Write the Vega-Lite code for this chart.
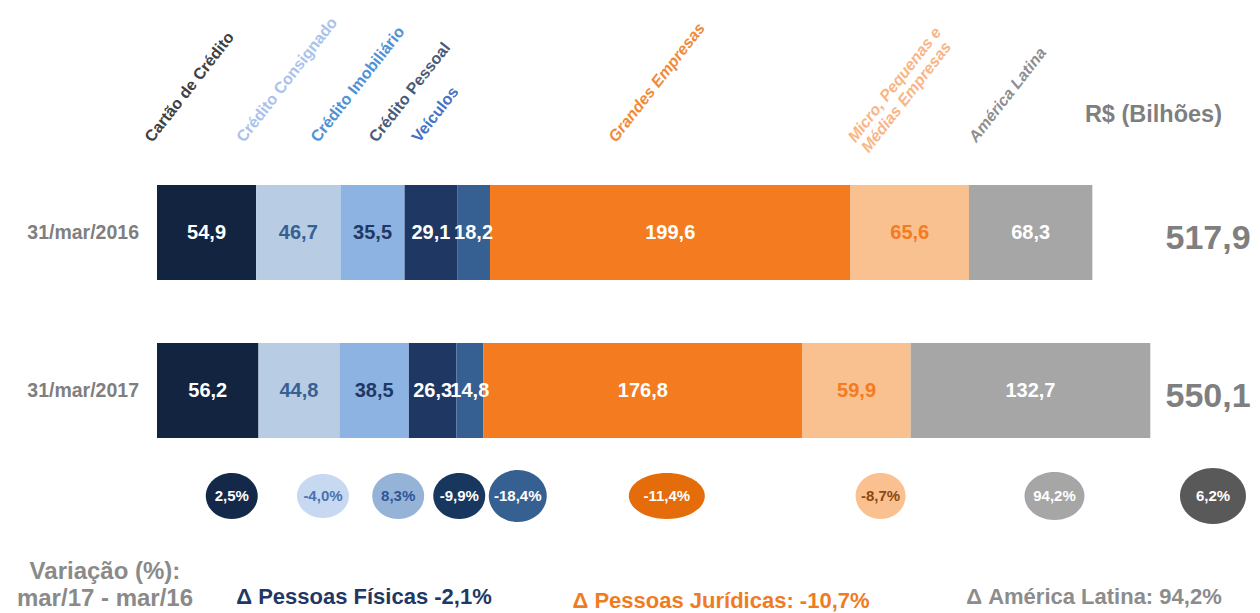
{
  "$schema": "https://vega.github.io/schema/vega-lite/v6.json",
  "width": 1260,
  "height": 613,
  "autosize": {"type": "none"},
  "padding": 0,
  "background": "#ffffff",
  "config": {
    "view": {"stroke": null},
    "locale": {"number": {"decimal": ",", "thousands": ".", "grouping": [3], "currency": ["R$ ", ""], "minus": "-"}}
  },
  "datasets": {
    "seg": [
      {"periodo": "31/mar/2016", "categoria": "Cartão de Crédito", "ordem": 1, "valor": 54.9},
      {"periodo": "31/mar/2016", "categoria": "Crédito Consignado", "ordem": 2, "valor": 46.7},
      {"periodo": "31/mar/2016", "categoria": "Crédito Imobiliário", "ordem": 3, "valor": 35.5},
      {"periodo": "31/mar/2016", "categoria": "Crédito Pessoal", "ordem": 4, "valor": 29.1},
      {"periodo": "31/mar/2016", "categoria": "Veículos", "ordem": 5, "valor": 18.2},
      {"periodo": "31/mar/2016", "categoria": "Grandes Empresas", "ordem": 6, "valor": 199.6},
      {"periodo": "31/mar/2016", "categoria": "Micro, Pequenas e\nMédias Empresas", "ordem": 7, "valor": 65.6},
      {"periodo": "31/mar/2016", "categoria": "América Latina", "ordem": 8, "valor": 68.3},
      {"periodo": "31/mar/2017", "categoria": "Cartão de Crédito", "ordem": 1, "valor": 56.2, "variacao": 0.025},
      {"periodo": "31/mar/2017", "categoria": "Crédito Consignado", "ordem": 2, "valor": 44.8, "variacao": -0.040},
      {"periodo": "31/mar/2017", "categoria": "Crédito Imobiliário", "ordem": 3, "valor": 38.5, "variacao": 0.083},
      {"periodo": "31/mar/2017", "categoria": "Crédito Pessoal", "ordem": 4, "valor": 26.3, "variacao": -0.099},
      {"periodo": "31/mar/2017", "categoria": "Veículos", "ordem": 5, "valor": 14.8, "variacao": -0.184},
      {"periodo": "31/mar/2017", "categoria": "Grandes Empresas", "ordem": 6, "valor": 176.8, "variacao": -0.114},
      {"periodo": "31/mar/2017", "categoria": "Micro, Pequenas e\nMédias Empresas", "ordem": 7, "valor": 59.9, "variacao": -0.087},
      {"periodo": "31/mar/2017", "categoria": "América Latina", "ordem": 8, "valor": 132.7, "variacao": 0.942}
    ],
    "totais": [
      {"periodo": "31/mar/2016", "total": 517.9},
      {"periodo": "31/mar/2017", "total": 550.1, "variacao": 0.062}
    ],
    "notas": [
      {"id": "unidade", "texto": "R$ (Bilhões)"},
      {"id": "variacao", "texto": "Variação (%):\nmar/17 - mar/16"},
      {"id": "pf", "texto": "Δ Pessoas Físicas -2,1%"},
      {"id": "pj", "texto": "Δ Pessoas Jurídicas: -10,7%"},
      {"id": "al", "texto": "Δ América Latina: 94,2%"}
    ]
  },
  "layer": [
    {
      "data": {"name": "seg"},
      "transform": [
        {"stack": "valor", "groupby": ["periodo"], "sort": [{"field": "ordem", "order": "ascending"}], "as": ["ini", "fim"]}
      ],
      "mark": {"type": "bar", "height": {"band": 0.6013}},
      "encoding": {
        "x": {"field": "ini", "type": "quantitative", "scale": {"domain": [-86.93, 610.74], "nice": false, "zero": false}, "axis": null},
        "x2": {"field": "fim"},
        "y": {"field": "periodo", "type": "nominal", "scale": {"type": "band", "domain": ["31/mar/2016", "31/mar/2017"], "paddingInner": 0, "paddingOuter": 0.93987, "align": 0.51684}, "axis": null},
        "color": {
          "field": "categoria", "type": "nominal", "legend": null,
          "scale": {
            "domain": ["Cartão de Crédito", "Crédito Consignado", "Crédito Imobiliário", "Crédito Pessoal", "Veículos", "Grandes Empresas", "Micro, Pequenas e\nMédias Empresas", "América Latina"],
            "range": ["#12243f", "#b8cce4", "#8db3e2", "#1f3763", "#366092", "#f47b20", "#f9c090", "#a6a6a6"]
          }
        }
      }
    },
    {
      "data": {"name": "seg"},
      "transform": [
        {"stack": "valor", "groupby": ["periodo"], "sort": [{"field": "ordem", "order": "ascending"}], "as": ["ini", "fim"]},
        {"calculate": "(datum.ini + datum.fim) / 2", "as": "meio"}
      ],
      "mark": {"type": "text", "font": "Liberation Sans", "fontSize": 20, "fontWeight": "bold", "align": "center", "baseline": "middle"},
      "encoding": {
        "x": {"field": "meio", "type": "quantitative", "scale": {"domain": [-86.93, 610.74], "nice": false, "zero": false}, "axis": null},
        "y": {"field": "periodo", "type": "nominal", "scale": {"type": "band", "domain": ["31/mar/2016", "31/mar/2017"], "paddingInner": 0, "paddingOuter": 0.93987, "align": 0.51684}, "axis": null},
        "text": {"field": "valor", "type": "quantitative", "format": ".1f"},
        "color": {
          "condition": [
            {"test": "datum.ordem == 2", "value": "#366092"},
            {"test": "datum.ordem == 3", "value": "#1f3864"},
            {"test": "datum.ordem == 7", "value": "#f47b20"}
          ],
          "value": "#ffffff"
        }
      }
    },
    {
      "data": {"name": "totais"},
      "mark": {"type": "text", "font": "Liberation Sans", "fontSize": 19.5, "fontWeight": "bold", "align": "right", "baseline": "middle", "color": "#7f7f7f"},
      "encoding": {
        "x": {"datum": -9.96, "type": "quantitative", "scale": {"domain": [-86.93, 610.74], "nice": false, "zero": false}, "axis": null},
        "y": {"field": "periodo", "type": "nominal", "scale": {"type": "band", "domain": ["31/mar/2016", "31/mar/2017"], "paddingInner": 0, "paddingOuter": 0.93987, "align": 0.51684}, "axis": null},
        "text": {"field": "periodo", "type": "nominal"}
      }
    },
    {
      "data": {"name": "seg"},
      "transform": [
        {"filter": "datum.periodo == '31/mar/2016'"},
        {"stack": "valor", "groupby": ["periodo"], "sort": [{"field": "ordem", "order": "ascending"}], "as": ["ini", "fim"]},
        {"calculate": "(datum.ini + datum.fim) / 2", "as": "meio"},
        {"filter": "datum.ordem <= 5"}
      ],
      "mark": {"type": "text", "angle": 308, "align": "left", "baseline": "bottom", "font": "Liberation Sans", "fontSize": 16, "fontWeight": "bold", "lineBreak": "\n", "lineHeight": 17, "xOffset": -52, "yOffset": -8.5},
      "encoding": {
        "x": {"field": "meio", "type": "quantitative", "scale": {"domain": [-86.93, 610.74], "nice": false, "zero": false}, "axis": null},
        "y": {"field": "periodo", "type": "nominal", "bandPosition": 0, "scale": {"type": "band", "domain": ["31/mar/2016", "31/mar/2017"], "paddingInner": 0, "paddingOuter": 0.93987, "align": 0.51684}, "axis": null},
        "text": {"field": "categoria", "type": "nominal"},
        "color": {
          "condition": [
            {"test": "datum.ordem == 2", "value": "#a9c3ec"},
            {"test": "datum.ordem == 3", "value": "#4f91d6"},
            {"test": "datum.ordem == 4", "value": "#4a5b78"},
            {"test": "datum.ordem == 5", "value": "#4472c4"}
          ],
          "value": "#404040"
        }
      }
    },
    {
      "data": {"name": "seg"},
      "transform": [
        {"filter": "datum.periodo == '31/mar/2016'"},
        {"stack": "valor", "groupby": ["periodo"], "sort": [{"field": "ordem", "order": "ascending"}], "as": ["ini", "fim"]},
        {"calculate": "(datum.ini + datum.fim) / 2", "as": "meio"},
        {"filter": "datum.ordem > 5"}
      ],
      "mark": {"type": "text", "angle": 308, "align": "left", "baseline": "bottom", "font": "Liberation Sans", "fontSize": 16, "fontWeight": "bold", "fontStyle": "italic", "lineBreak": "\n", "lineHeight": 17, "xOffset": -52, "yOffset": -8.5},
      "encoding": {
        "x": {"field": "meio", "type": "quantitative", "scale": {"domain": [-86.93, 610.74], "nice": false, "zero": false}, "axis": null},
        "y": {"field": "periodo", "type": "nominal", "bandPosition": 0, "scale": {"type": "band", "domain": ["31/mar/2016", "31/mar/2017"], "paddingInner": 0, "paddingOuter": 0.93987, "align": 0.51684}, "axis": null},
        "text": {"field": "categoria", "type": "nominal"},
        "color": {
          "condition": [
            {"test": "datum.ordem == 6", "value": "#f08a3a"},
            {"test": "datum.ordem == 7", "value": "#f9b585"}
          ],
          "value": "#8f8f8f"
        }
      }
    },
    {
      "data": {"name": "seg"},
      "transform": [
        {"filter": "datum.periodo == '31/mar/2017'"},
        {"stack": "valor", "groupby": ["periodo"], "sort": [{"field": "ordem", "order": "ascending"}], "as": ["ini", "fim"]},
        {"calculate": "(datum.ini + datum.fim) / 2", "as": "meio"},
        {"window": [{"op": "lag", "field": "meio", "as": "meio_ant"}], "sort": [{"field": "ordem", "order": "ascending"}]},
        {"calculate": "max(datum.meio + 13.3, isValid(datum.meio_ant) ? datum.meio_ant + 47.1 : -1000)", "as": "pos"}
      ],
      "mark": {"type": "point", "filled": true, "opacity": 1, "size": 4, "strokeWidth": 0, "yOffset": 26.5},
      "encoding": {
        "x": {"field": "pos", "type": "quantitative", "scale": {"domain": [-86.93, 610.74], "nice": false, "zero": false}, "axis": null},
        "y": {"field": "periodo", "type": "nominal", "bandPosition": 1, "scale": {"type": "band", "domain": ["31/mar/2016", "31/mar/2017"], "paddingInner": 0, "paddingOuter": 0.93987, "align": 0.51684}, "axis": null},
        "fill": {
          "field": "categoria", "type": "nominal", "legend": null,
          "scale": {
            "domain": ["Cartão de Crédito", "Crédito Consignado", "Crédito Imobiliário", "Crédito Pessoal", "Veículos", "Grandes Empresas", "Micro, Pequenas e\nMédias Empresas", "América Latina"],
            "range": ["#14294a", "#c6d9f1", "#95b3d7", "#17375e", "#376092", "#e46c0a", "#fac090", "#a6a6a6"]
          }
        },
        "shape": {
          "field": "categoria", "type": "nominal", "legend": null,
          "scale": {
            "domain": ["Cartão de Crédito", "Crédito Consignado", "Crédito Imobiliário", "Crédito Pessoal", "Veículos", "Grandes Empresas", "Micro, Pequenas e\nMédias Empresas", "América Latina"],
            "range": [
              "M-26,0C-26,-12.7,-14.36,-23,0,-23C14.36,-23,26,-12.7,26,0C26,12.7,14.36,23,0,23C-14.36,23,-26,12.7,-26,0Z",
              "M-26,0C-26,-12.15,-14.36,-22,0,-22C14.36,-22,26,-12.15,26,0C26,12.15,14.36,22,0,22C-14.36,22,-26,12.15,-26,0Z",
              "M-26,0C-26,-12.7,-14.36,-23,0,-23C14.36,-23,26,-12.7,26,0C26,12.7,14.36,23,0,23C-14.36,23,-26,12.7,-26,0Z",
              "M-26,0C-26,-12.7,-14.36,-23,0,-23C14.36,-23,26,-12.7,26,0C26,12.7,14.36,23,0,23C-14.36,23,-26,12.7,-26,0Z",
              "M-29,0C-29,-14.36,-16.02,-26,0,-26C16.02,-26,29,-14.36,29,0C29,14.36,16.02,26,0,26C-16.02,26,-29,14.36,-29,0Z",
              "M-38,0C-38,-12.7,-20.99,-23,0,-23C20.99,-23,38,-12.7,38,0C38,12.7,20.99,23,0,23C-20.99,23,-38,12.7,-38,0Z",
              "M-25,0C-25,-12.7,-13.81,-23,0,-23C13.81,-23,25,-12.7,25,0C25,12.7,13.81,23,0,23C-13.81,23,-25,12.7,-25,0Z",
              "M-30,0C-30,-13.26,-16.57,-24,0,-24C16.57,-24,30,-13.26,30,0C30,13.26,16.57,24,0,24C-16.57,24,-30,13.26,-30,0Z"
            ]
          }
        }
      }
    },
    {
      "data": {"name": "seg"},
      "transform": [
        {"filter": "datum.periodo == '31/mar/2017'"},
        {"stack": "valor", "groupby": ["periodo"], "sort": [{"field": "ordem", "order": "ascending"}], "as": ["ini", "fim"]},
        {"calculate": "(datum.ini + datum.fim) / 2", "as": "meio"},
        {"window": [{"op": "lag", "field": "meio", "as": "meio_ant"}], "sort": [{"field": "ordem", "order": "ascending"}]},
        {"calculate": "max(datum.meio + 13.3, isValid(datum.meio_ant) ? datum.meio_ant + 47.1 : -1000)", "as": "pos"}
      ],
      "mark": {"type": "text", "font": "Liberation Sans", "fontSize": 15, "fontWeight": "bold", "align": "center", "baseline": "middle", "yOffset": 26.5},
      "encoding": {
        "x": {"field": "pos", "type": "quantitative", "scale": {"domain": [-86.93, 610.74], "nice": false, "zero": false}, "axis": null},
        "y": {"field": "periodo", "type": "nominal", "bandPosition": 1, "scale": {"type": "band", "domain": ["31/mar/2016", "31/mar/2017"], "paddingInner": 0, "paddingOuter": 0.93987, "align": 0.51684}, "axis": null},
        "text": {"field": "variacao", "type": "quantitative", "format": ".1%"},
        "color": {
          "condition": [
            {"test": "datum.ordem == 2", "value": "#4a72b0"},
            {"test": "datum.ordem == 3", "value": "#2f5597"},
            {"test": "datum.ordem == 7", "value": "#8a4a10"}
          ],
          "value": "#ffffff"
        }
      }
    },
    {
      "data": {"name": "totais"},
      "transform": [{"filter": "isValid(datum.variacao)"}],
      "mark": {"type": "point", "filled": true, "opacity": 1, "size": 4, "strokeWidth": 0, "yOffset": 26.5, "color": "#595959",
               "shape": "M-33,0C-33,-15.46,-18.23,-28,0,-28C18.23,-28,33,-15.46,33,0C33,15.46,18.23,28,0,28C-18.23,28,-33,15.46,-33,0Z"},
      "encoding": {
        "x": {"datum": 584.7, "type": "quantitative", "scale": {"domain": [-86.93, 610.74], "nice": false, "zero": false}, "axis": null},
        "y": {"field": "periodo", "type": "nominal", "bandPosition": 1, "scale": {"type": "band", "domain": ["31/mar/2016", "31/mar/2017"], "paddingInner": 0, "paddingOuter": 0.93987, "align": 0.51684}, "axis": null}
      }
    },
    {
      "data": {"name": "totais"},
      "transform": [{"filter": "isValid(datum.variacao)"}],
      "mark": {"type": "text", "font": "Liberation Sans", "fontSize": 15, "fontWeight": "bold", "align": "center", "baseline": "middle", "yOffset": 26.5, "color": "#ffffff"},
      "encoding": {
        "x": {"datum": 584.7, "type": "quantitative", "scale": {"domain": [-86.93, 610.74], "nice": false, "zero": false}, "axis": null},
        "y": {"field": "periodo", "type": "nominal", "bandPosition": 1, "scale": {"type": "band", "domain": ["31/mar/2016", "31/mar/2017"], "paddingInner": 0, "paddingOuter": 0.93987, "align": 0.51684}, "axis": null},
        "text": {"field": "variacao", "type": "quantitative", "format": ".1%"}
      }
    },
    {
      "data": {"name": "totais"},
      "mark": {"type": "text", "font": "Liberation Sans", "fontSize": 34, "fontWeight": "bold", "align": "center", "baseline": "middle", "color": "#7f7f7f", "yOffset": 6},
      "encoding": {
        "x": {"datum": 582.0, "type": "quantitative", "scale": {"domain": [-86.93, 610.74], "nice": false, "zero": false}, "axis": null},
        "y": {"field": "periodo", "type": "nominal", "scale": {"type": "band", "domain": ["31/mar/2016", "31/mar/2017"], "paddingInner": 0, "paddingOuter": 0.93987, "align": 0.51684}, "axis": null},
        "text": {"field": "total", "type": "quantitative", "format": ".1f"}
      }
    },
    {
      "data": {"name": "notas"},
      "transform": [{"filter": "datum.id == 'unidade'"}],
      "mark": {"type": "text", "font": "Liberation Sans", "fontSize": 23.5, "fontWeight": "bold", "align": "right", "baseline": "middle", "color": "#7f7f7f", "yOffset": -38.5},
      "encoding": {
        "x": {"datum": 589.7, "type": "quantitative", "scale": {"domain": [-86.93, 610.74], "nice": false, "zero": false}, "axis": null},
        "y": {"datum": "31/mar/2016", "type": "nominal", "bandPosition": 0, "scale": {"type": "band", "domain": ["31/mar/2016", "31/mar/2017"], "paddingInner": 0, "paddingOuter": 0.93987, "align": 0.51684}, "axis": null},
        "text": {"field": "texto", "type": "nominal"}
      }
    },
    {
      "data": {"name": "notas"},
      "transform": [{"filter": "datum.id == 'variacao'"}],
      "mark": {"type": "text", "font": "Liberation Sans", "fontSize": 24, "fontWeight": "bold", "align": "center", "baseline": "middle", "color": "#8a8a8a", "lineBreak": "\n", "lineHeight": 27, "yOffset": 102.5},
      "encoding": {
        "x": {"datum": -28.8, "type": "quantitative", "scale": {"domain": [-86.93, 610.74], "nice": false, "zero": false}, "axis": null},
        "y": {"datum": "31/mar/2017", "type": "nominal", "bandPosition": 1, "scale": {"type": "band", "domain": ["31/mar/2016", "31/mar/2017"], "paddingInner": 0, "paddingOuter": 0.93987, "align": 0.51684}, "axis": null},
        "text": {"field": "texto", "type": "nominal"}
      }
    },
    {
      "data": {"name": "notas"},
      "transform": [{"filter": "datum.id == 'pf'"}],
      "mark": {"type": "text", "font": "Liberation Sans", "fontSize": 22, "fontWeight": "bold", "align": "center", "baseline": "middle", "color": "#1f3864", "yOffset": 127.5},
      "encoding": {
        "x": {"datum": 114.6, "type": "quantitative", "scale": {"domain": [-86.93, 610.74], "nice": false, "zero": false}, "axis": null},
        "y": {"datum": "31/mar/2017", "type": "nominal", "bandPosition": 1, "scale": {"type": "band", "domain": ["31/mar/2016", "31/mar/2017"], "paddingInner": 0, "paddingOuter": 0.93987, "align": 0.51684}, "axis": null},
        "text": {"field": "texto", "type": "nominal"}
      }
    },
    {
      "data": {"name": "notas"},
      "transform": [{"filter": "datum.id == 'pj'"}],
      "mark": {"type": "text", "font": "Liberation Sans", "fontSize": 22, "fontWeight": "bold", "align": "center", "baseline": "middle", "color": "#f07c22", "yOffset": 131},
      "encoding": {
        "x": {"datum": 312.3, "type": "quantitative", "scale": {"domain": [-86.93, 610.74], "nice": false, "zero": false}, "axis": null},
        "y": {"datum": "31/mar/2017", "type": "nominal", "bandPosition": 1, "scale": {"type": "band", "domain": ["31/mar/2016", "31/mar/2017"], "paddingInner": 0, "paddingOuter": 0.93987, "align": 0.51684}, "axis": null},
        "text": {"field": "texto", "type": "nominal"}
      }
    },
    {
      "data": {"name": "notas"},
      "transform": [{"filter": "datum.id == 'al'"}],
      "mark": {"type": "text", "font": "Liberation Sans", "fontSize": 22, "fontWeight": "bold", "align": "center", "baseline": "middle", "color": "#8c8c8c", "yOffset": 127.5},
      "encoding": {
        "x": {"datum": 518.8, "type": "quantitative", "scale": {"domain": [-86.93, 610.74], "nice": false, "zero": false}, "axis": null},
        "y": {"datum": "31/mar/2017", "type": "nominal", "bandPosition": 1, "scale": {"type": "band", "domain": ["31/mar/2016", "31/mar/2017"], "paddingInner": 0, "paddingOuter": 0.93987, "align": 0.51684}, "axis": null},
        "text": {"field": "texto", "type": "nominal"}
      }
    }
  ]
}
